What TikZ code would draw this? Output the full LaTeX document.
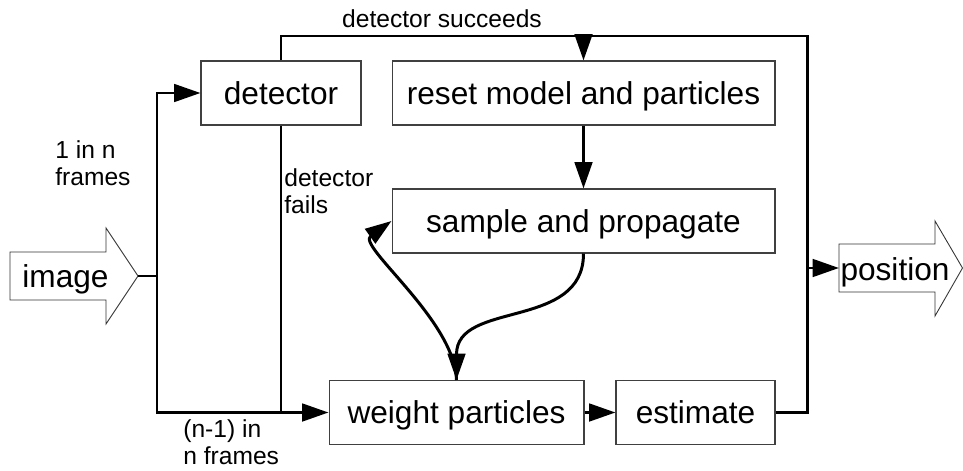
\documentclass[tikz,border=0pt]{standalone}
\usepackage{fontspec}
\setmainfont{Liberation Sans}
\usetikzlibrary{arrows.meta,calc,positioning}

\begin{document}
\begin{tikzpicture}[x=0.02cm,y=-0.02cm,>={Triangle[length=15pt,width=10pt]},
    blk/.style={draw=black!75,line width=0.6pt,minimum height=1.28cm,inner sep=0pt,
      font=\fontsize{18}{20}\selectfont,text height=12.9pt,text depth=0pt},
    bigarrow/.style={draw=black!80,line width=0.5pt},
    wire/.style={line width=1.7pt},
    lbl/.style={font=\fontsize{14}{15.5}\selectfont,align=left,inner sep=0pt}]
    \useasboundingbox (0,0) rectangle (963,470);
    \node[blk,minimum width=3.2cm] (det) at (281,93) {detector};
    \node[blk,minimum width=7.66cm] (reset) at (583.5,93) {reset model and particles};
    \node[blk,minimum width=7.66cm] (samp) at (583.5,221) {sample and propagate};
    \node[blk,minimum width=5.1cm] (wgt) at (456.5,412.5) {weight particles};
    \node[blk,minimum width=3.18cm] (est) at (695.5,412.5) {estimate};
    \draw[bigarrow] (10,252) -- (106,252) -- (106,228) -- (138,276) -- (106,324) -- (106,300) -- (10,300) -- cycle;
    \node[anchor=base,inner sep=0pt,font=\fontsize{18}{20}\selectfont] (imgtxt) at (65.5,287) {image};
    \draw[bigarrow] (839,244) -- (935,244) -- (935,221) -- (962.5,268) -- (935,316) -- (935,292) -- (839,292) -- cycle;
    \node[anchor=base,inner sep=0pt,font=\fontsize{18}{20}\selectfont] (postxt) at (895,280) {position};
    \coordinate (imgtip) at (138,276);
    \coordinate (split) at (157,276);
    \coordinate (ne) at (807,36);
    \coordinate (se) at (807,412.5);
    \coordinate (postail) at (839,268);
    \draw[wire] (imgtip) -- (split);
    \draw[wire,->] (split) |- (det.west);
    \draw[wire,->] (split) |- (wgt.west);
    \draw[wire] (det.south) -- (det.south |- wgt.west);
    \draw[wire] (det.north) |- (ne) -- (se) -- (est.east);
    \draw[wire,->] (reset.north |- ne) -- (reset.north);
    \draw[wire,->] (reset.south) -- (samp.north);
    \draw[wire,->] (wgt.east) -- (est.west);
    \draw[wire,->] (ne |- postail) -- (postail);
    \draw[wire,->] (samp.south) .. controls +(0,77) and +(0,-80) .. (wgt.north);
    \draw[wire,->] (wgt.north) .. controls +(-1.5,-60) and +(-35,25) .. (samp.west);
    \node[lbl] (succ) at (442,18.5) {detector succeeds};
    \node[lbl,anchor=west] (onein) at (55,163.5) {1 in n\\frames};
    \node[lbl,anchor=west] (fails) at (284,191.5) {detector\\fails};
    \node[lbl,anchor=west] (restin) at (183,442) {(n-1) in\\n frames};
\end{tikzpicture}
\end{document}
